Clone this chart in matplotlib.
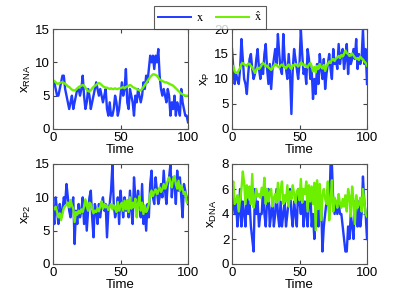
import numpy as np
import matplotlib
matplotlib.use("Agg")
import matplotlib.pyplot as plt
from matplotlib.lines import Line2D

time = list(range(101))

rna_x = [7,7,6,5,5,6,7,8,8,6,
         5,4,3,4,5,3,4,5,6,6,
         5,6,8,5,3,4,6,5,3,4,
         5,6,7,6,5,6,5,4,5,6,
         3,2,4,2,2,3,5,4,2,3,
         5,7,5,6,9,4,3,6,5,4,
         2,5,4,6,5,4,5,7,6,8,
         7,9,11,10,11,9,11,10,12,8,
         6,5,6,5,4,6,5,2,4,3,
         5,2,4,3,2,6,4,3,2,2,
         1]
rna_xhat = [7.3,7.2,7.0,6.8,6.8,6.9,7.0,7.0,6.9,6.8,
            6.6,6.4,6.3,6.1,5.9,5.8,5.8,5.9,6.1,6.3,
            6.4,6.5,6.6,6.5,6.2,5.9,5.7,5.6,5.8,6.1,
            6.3,6.5,6.6,6.8,6.9,6.8,6.6,6.4,6.3,6.2,
            6.2,6.1,6.0,6.1,6.0,6.0,6.1,6.0,6.0,6.1,
            6.1,6.2,6.3,6.1,6.3,6.4,6.5,6.6,6.5,6.3,
            6.2,6.1,6.0,5.9,5.8,5.8,6.0,6.3,6.6,6.9,
            7.2,7.5,7.8,8.0,8.2,8.2,8.1,8.0,7.7,7.4,
            7.3,7.2,7.1,7.0,7.0,6.9,6.8,6.7,6.6,6.5,
            6.3,6.1,5.9,5.7,5.5,5.3,5.2,5.1,5.0,5.0,
            5.0]

p_x = [16,12,9,11,10,9,12,18,14,10,
       9,7,11,14,15,12,10,11,14,16,
       12,10,13,11,15,17,12,9,13,8,
       12,14,16,13,19,15,12,11,19,14,
       12,10,15,11,3,12,16,14,12,10,
       13,20,15,11,12,9,16,14,10,12,
       6,10,7,13,9,15,12,10,14,8,
       11,13,15,12,10,16,13,14,12,17,
       13,15,16,12,14,17,11,15,13,14,
       16,14,18,12,15,13,14,20,13,16,
       9]
p_xhat = [12.8,12.5,11.5,11.2,11.3,11.7,12.2,13.0,13.2,12.9,
          12.8,12.6,13.1,13.0,12.6,12.3,11.8,11.2,11.9,12.3,
          12.0,12.3,12.8,13.2,12.9,12.5,12.7,12.3,12.1,11.8,
          12.2,12.6,13.0,12.8,12.5,12.3,12.7,12.9,12.6,12.4,
          12.1,12.6,12.9,12.3,12.0,12.8,12.7,13.0,12.8,12.5,
          12.8,13.3,13.1,12.7,12.9,12.5,12.3,12.9,13.2,12.6,
          11.5,12.4,11.3,12.6,12.0,13.0,12.4,12.1,12.8,11.6,
          12.5,13.0,13.5,13.2,13.9,14.0,13.6,14.1,14.3,14.6,
          14.2,14.8,14.5,15.0,15.7,15.2,15.0,14.6,14.8,15.1,
          14.7,14.3,14.0,14.2,13.8,14.5,14.1,13.9,13.5,13.2,
          12.7]

p2_x = [8,6,10,8,6,9,7,8,10,9,
        12,10,8,7,9,10,3,8,6,9,
        7,8,10,6,9,5,8,10,11,7,
        4,9,8,6,9,7,9,10,8,9,
        4,8,9,11,15,9,7,8,10,6,
        11,9,7,10,8,9,7,11,8,6,
        13,10,8,11,9,7,12,6,8,5,
        9,7,12,14,10,9,13,11,9,10,
        12,10,14,11,9,12,13,15,10,13,
        12,9,14,11,13,10,7,12,11,10,
        9]
p2_xhat = [8.5,8.2,8.6,7.8,7.0,7.6,6.6,7.5,8.4,8.7,
           8.9,9.2,8.5,9.6,8.8,8.3,6.3,7.8,7.4,8.0,
           7.6,8.2,7.8,8.6,9.7,8.7,8.0,9.2,9.0,8.2,
           7.6,8.0,7.8,8.4,7.9,8.6,9.4,8.3,9.0,8.5,
           8.8,8.1,8.5,9.0,8.2,8.8,8.3,7.8,9.3,8.0,
           8.7,9.2,8.0,9.5,8.2,9.6,7.8,10.0,8.3,9.2,
           8.5,9.8,7.0,9.0,10.2,8.0,9.2,7.5,8.8,7.8,
           8.2,9.0,10.5,11.0,10.2,10.8,11.2,10.5,11.0,11.5,
           10.8,11.2,12.0,11.3,11.8,12.5,13.0,12.2,11.5,12.8,
           13.2,12.0,11.3,12.5,11.0,11.8,11.2,10.5,10.8,9.3,
           9.2]

dna_x = [6,5,4,5,3,4,6,3,5,4,
         3,6,4,5,3,2,1,6,4,5,
         3,4,4,6,4,3,5,6,3,4,
         5,3,4,6,4,3,5,3,4,5,
         3,4,5,6,4,3,5,4,3,6,
         5,4,6,3,5,4,3,5,6,3,
         4,2,5,6,3,4,5,1,3,4,
         5,6,4,8,8,5,4,5,4,5,
         4,4,3,2,1,1,3,2,4,3,
         2,5,4,3,5,3,4,7,5,4,
         2]
dna_xhat = [6.2,6.6,4.8,5.0,5.5,4.2,5.2,6.0,7.4,6.5,
            4.8,6.3,5.3,6.2,4.8,7.2,4.5,5.2,6.0,5.4,
            5.6,5.3,6.1,5.5,6.9,4.8,6.0,5.0,5.7,6.0,
            4.6,5.3,5.6,4.9,6.5,5.1,5.9,6.6,4.8,5.5,
            5.0,6.3,4.6,5.8,5.2,6.3,5.6,4.9,5.8,6.0,
            5.1,6.8,4.9,6.0,5.6,6.6,4.2,6.3,5.0,6.2,
            4.8,6.5,2.7,6.7,4.4,6.4,3.5,5.5,6.0,5.2,
            4.8,6.6,3.5,5.0,6.7,4.2,5.3,5.0,4.5,5.6,
            4.8,4.5,5.2,4.6,5.5,4.2,6.0,5.4,3.8,6.2,
            5.0,3.2,5.5,4.5,4.8,5.3,4.2,6.0,5.0,4.0,
            3.8]

panels = [
    ("RNA", rna_x, rna_xhat, 15, [0, 5, 10, 15]),
    ("P", p_x, p_xhat, 20, [0, 5, 10, 15, 20]),
    ("P2", p2_x, p2_xhat, 15, [0, 5, 10, 15]),
    ("DNA", dna_x, dna_xhat, 8, [0, 2, 4, 6, 8]),
]
xticks = [0, 50, 100]

BLUE = "#1f3cff"
GREEN = "#6cf000"

plt.rcParams['font.family'] = ['Liberation Sans', 'DejaVu Sans']
plt.rcParams['font.size'] = 9
plt.rcParams['mathtext.fontset'] = 'stix'

W, H = 407, 299
fig = plt.figure(figsize=(W / 100, H / 100), dpi=100)

# pixel boxes: left, top, right, bottom
boxes = [(53, 29, 188, 129), (232, 29, 367, 129),
         (53, 164, 188, 264), (232, 164, 367, 264)]

for (name, xs, xh, ymax, yt), (l, t, r, b) in zip(panels, boxes):
    ax = fig.add_axes([l / W, 1 - b / H, (r - l) / W, (b - t) / H])
    ax.plot(time, xs, color=BLUE, lw=1.7)
    ax.plot(time, xh, color=GREEN, lw=1.7)
    ax.set_xlim(0, 100)
    ax.set_ylim(0, ymax)
    ax.set_xticks(xticks)
    ax.set_yticks(yt)
    ax.tick_params(direction='in', length=3, top=True, right=True,
                   labelsize=9.5, pad=2, color='#444444')
    for s in ax.spines.values():
        s.set_color('#555555')
        s.set_linewidth(0.8)
    ax.set_xlabel('Time', fontsize=9.5, labelpad=0)
    ax.set_ylabel(r'$\mathregular{x_{%s}}$' % name, fontsize=9.5, labelpad=2)

handles = [Line2D([], [], color=BLUE, lw=1.4), Line2D([], [], color=GREEN, lw=1.4)]
leg = fig.legend(handles, [r'$\mathrm{x}$', r'$\hat{\mathrm{x}}$'], loc='upper center',
                 bbox_to_anchor=(210 / W, 1.0), ncol=2, frameon=True, fancybox=False,
                 edgecolor='#333333', fontsize=9, handlelength=2.6, columnspacing=1.0,
                 handletextpad=0.4, borderpad=0.35)
leg.get_frame().set_linewidth(0.8)

fig.savefig('out.png', dpi=100)
